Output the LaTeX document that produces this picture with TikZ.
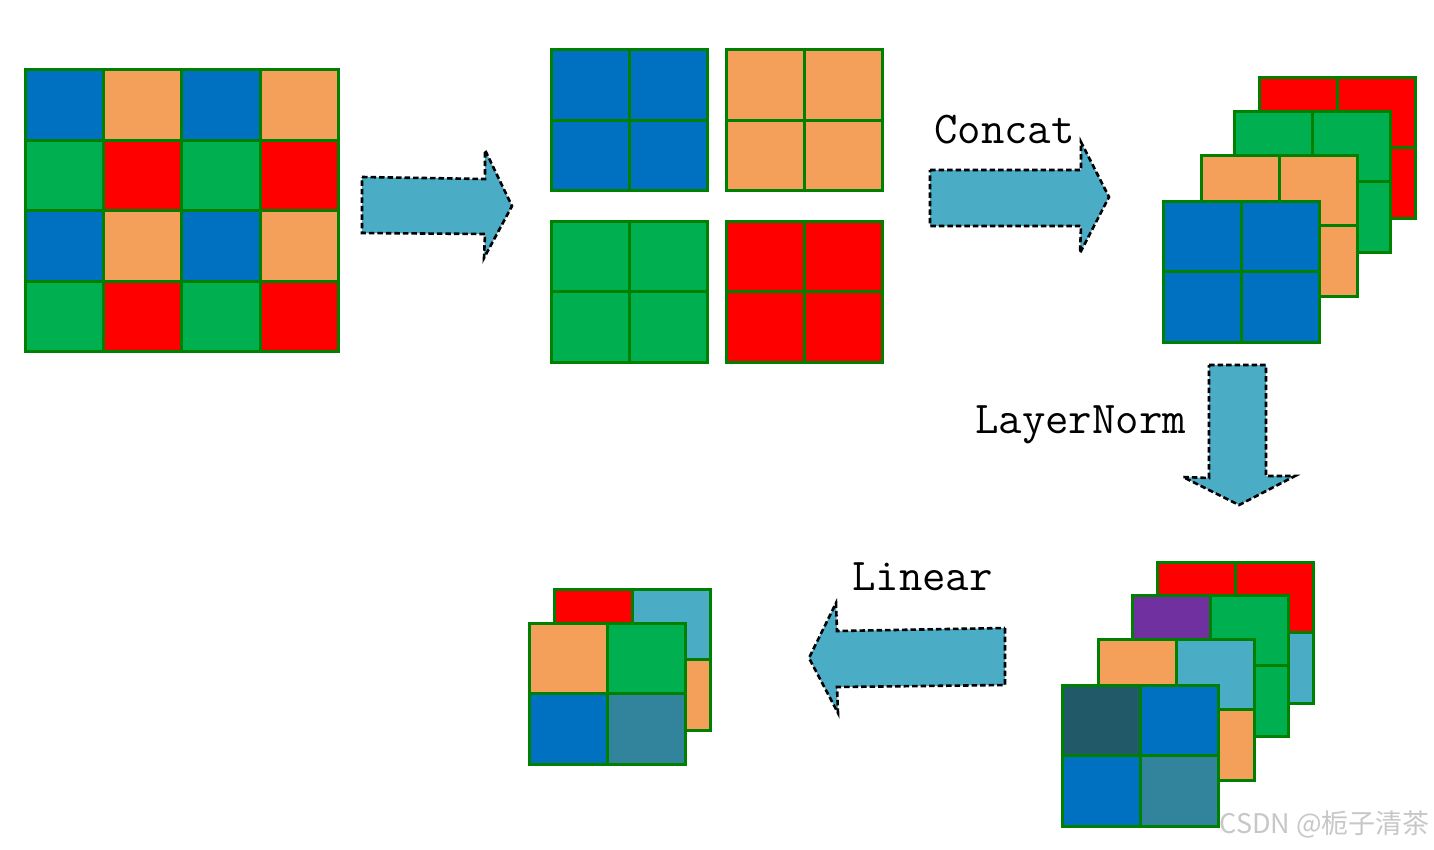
\documentclass[tikz,border=0pt]{standalone}
\usepackage{fontspec}
\newfontfamily\cjkfont{Noto Sans CJK SC}
\definecolor{cblue}{HTML}{0070C0}
\definecolor{corange}{HTML}{F4A05A}
\definecolor{cgreen}{HTML}{00B050}
\definecolor{cred}{HTML}{FF0000}
\definecolor{cborder}{HTML}{008000}
\definecolor{carrow}{HTML}{4BACC6}
\definecolor{cpurple}{HTML}{7030A0}
\definecolor{cdteal}{HTML}{215968}
\definecolor{cmteal}{HTML}{31849B}
\tikzset{
  gridline/.style={draw=cborder, line width=3pt, line join=miter},
  blockarrow/.style={fill=carrow, draw=black, line width=2.6pt, dash pattern=on 5.5pt off 3pt},
  lbl/.style={font=\fontsize{45.5}{50}\selectfont\ttfamily, inner sep=0pt, anchor=base west},
}
% 2x2 grid: x y TL TR BL BR
\newcommand\quadgrid[6]{%
  \fill[#3] (#1,#2) rectangle ++(78,70.5);
  \fill[#4] (#1+78,#2) rectangle ++(78,70.5);
  \fill[#5] (#1,#2+70.5) rectangle ++(78,70.5);
  \fill[#6] (#1+78,#2+70.5) rectangle ++(78,70.5);
  \draw[gridline] (#1,#2) rectangle ++(156,141);
  \draw[gridline] (#1+78,#2) -- ++(0,141) (#1,#2+70.5) -- ++(156,0);
}
\begin{document}
\begin{tikzpicture}[x=1pt,y=-1pt]
\useasboundingbox (0,0) rectangle (1434,849);

% big 4x4 grid
\foreach \c [count=\i from 0] in {cblue,corange,cblue,corange}
  \fill[\c] (25.5+\i*78.2,69.5) rectangle ++(78.2,70.5);
\foreach \c [count=\i from 0] in {cgreen,cred,cgreen,cred}
  \fill[\c] (25.5+\i*78.2,140) rectangle ++(78.2,70.5);
\foreach \c [count=\i from 0] in {cblue,corange,cblue,corange}
  \fill[\c] (25.5+\i*78.2,210.5) rectangle ++(78.2,70.5);
\foreach \c [count=\i from 0] in {cgreen,cred,cgreen,cred}
  \fill[\c] (25.5+\i*78.2,281) rectangle ++(78.2,70.5);
\draw[gridline] (25.5,69.5) rectangle (338.3,351.5);
\foreach \i in {1,2,3} {
  \draw[gridline] (25.5+\i*78.2,69.5) -- ++(0,282);
  \draw[gridline] (25.5,69.5+\i*70.5) -- ++(312.8,0);
}

% four 2x2 grids
\quadgrid{551.5}{49.5}{cblue}{cblue}{cblue}{cblue}
\quadgrid{726.5}{49.5}{corange}{corange}{corange}{corange}
\quadgrid{551.5}{221}{cgreen}{cgreen}{cgreen}{cgreen}
\quadgrid{726.5}{221}{cred}{cred}{cred}{cred}

% concatenated stack
\quadgrid{1259}{77}{cred}{cred}{cred}{cred}
\quadgrid{1234}{111}{cgreen}{cgreen}{cgreen}{cgreen}
\quadgrid{1201}{155}{corange}{corange}{corange}{corange}
\quadgrid{1163}{201}{cblue}{cblue}{cblue}{cblue}

% normalized stack
\quadgrid{1157}{562}{cred}{cred}{cred}{carrow}
\quadgrid{1132}{595}{cpurple}{cgreen}{cgreen}{cgreen}
\quadgrid{1098}{639}{corange}{carrow}{corange}{corange}
\quadgrid{1062}{685}{cdteal}{cblue}{cblue}{cmteal}

% linear output stack
\quadgrid{554}{589}{cred}{carrow}{corange}{corange}
\quadgrid{529}{623}{corange}{cgreen}{cblue}{cmteal}

% block arrows
\draw[blockarrow] (362,177) -- (485,179) -- (485,150) -- (512,206) -- (484,258) -- (485,234) -- (362,233) -- cycle;
\draw[blockarrow] (930,170) -- (1081,170) -- (1081,142) -- (1109,197) -- (1080,253) -- (1081,226) -- (930,226) -- cycle;
\draw[blockarrow] (1209,365) -- (1266,365) -- (1266,476) -- (1295,476) -- (1239,505) -- (1183,477) -- (1209,478) -- cycle;
\draw[blockarrow] (1005,628) -- (1005,685) -- (837,687) -- (838,713) -- (809,658) -- (836,603) -- (837,631) -- cycle;

% labels
\node[lbl] (concat) at (934,143) {Concat};
\node[lbl] (ln) at (975,433) {LayerNorm};
\node[lbl] (lin) at (852,590) {Linear};

% watermark
\node[font=\fontsize{27}{30}\selectfont\cjkfont, text=black!22, inner sep=0pt, anchor=base east] (wm) at (1430,833) {CSDN @栀子清茶};
\end{tikzpicture}
\end{document}
